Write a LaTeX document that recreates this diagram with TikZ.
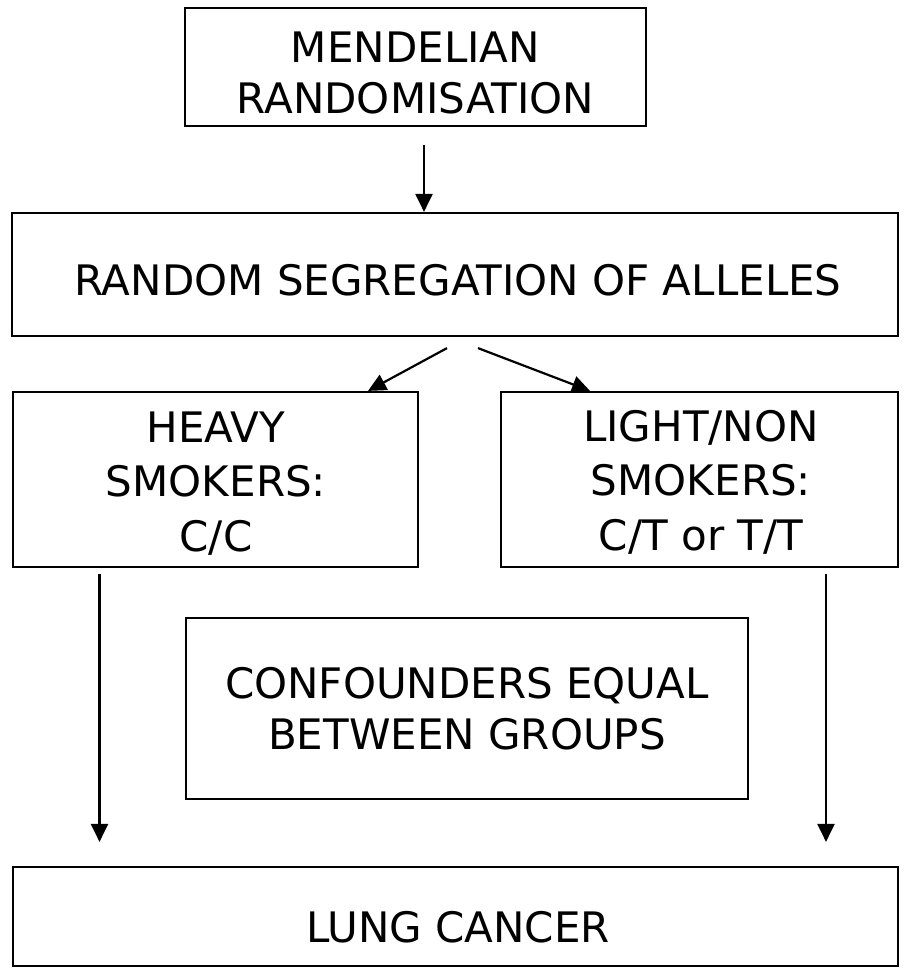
\documentclass[tikz,border=0pt]{standalone}
\usepackage{fontspec}
\setmainfont{DejaVu Sans}
\usetikzlibrary{arrows.meta,calc}

\tikzset{
  box/.style={draw=black, line width=2.2pt, rectangle, inner sep=0pt},
  label text/.style={inner sep=0pt, anchor=north, align=center, font=\fontsize{42}{54}\selectfont},
  arr/.style={line width=2.2pt, -{Triangle[length=18pt,width=17pt]}}
}

\begin{document}
\begin{tikzpicture}[x=1pt, y=-1pt]
  \useasboundingbox (0,0) rectangle (907,975);

  % boxes
  \node[box, minimum width=461pt, minimum height=118pt] (mr)    at (415.5,67)    {};
  \node[box, minimum width=886pt, minimum height=123pt] (seg)   at (455,274.5)   {};
  \node[box, minimum width=405pt, minimum height=175pt] (heavy) at (215.5,479.5) {};
  \node[box, minimum width=397pt, minimum height=175pt] (light) at (699.5,479.5) {};
  \node[box, minimum width=562pt, minimum height=181pt] (conf)  at (467,708.5)   {};
  \node[box, minimum width=885pt, minimum height=99pt]  (lung)  at (455.5,916.5) {};

  % box texts
  \node[label text, font=\fontsize{42}{51}\selectfont] (mrt) at (415.5,31.4) {MENDELIAN\\RANDOMISATION};
  \node[label text] (segt)   at (458,264.4) {RANDOM SEGREGATION OF ALLELES};
  \node[label text, font=\fontsize{42}{54.5}\selectfont] (heavyt) at (216,411.4) {HEAVY\\SMOKERS:\\C/C};
  \node[label text, font=\fontsize{42}{54.5}\selectfont] (lightt) at (701,410) {LIGHT/NON\\SMOKERS:\\C/T or T/T};
  \node[label text, font=\fontsize{42}{51}\selectfont] (conft) at (467,667.4) {CONFOUNDERS EQUAL\\BETWEEN GROUPS};
  \node[label text] (lungt)  at (458,911.4) {LUNG CANCER};

  % connector end points just outside the boxes
  \coordinate (ms) at ([shift={(8.5,18)}]mr.south);
  \coordinate (hs) at ([shift={(-116,6)}]heavy.south);
  \coordinate (ls) at ([shift={(126.5,6)}]light.south);
  \coordinate (he) at ($(hs |- lung.north)+(0,-24)$);
  \coordinate (le) at ($(ls |- lung.north)+(0,-24)$);

  % connectors
  \draw[arr] (ms) -- (ms |- seg.north);
  \draw[arr] ([shift={(-8,11)}]seg.south) -- ([shift={(152.5,0)}]heavy.north);
  \draw[arr] ([shift={(23,11)}]seg.south) -- ([shift={(-109.5,0)}]light.north);
  \draw[arr] (hs) -- (he);
  \draw[arr] (ls) -- (le);
\end{tikzpicture}
\end{document}
